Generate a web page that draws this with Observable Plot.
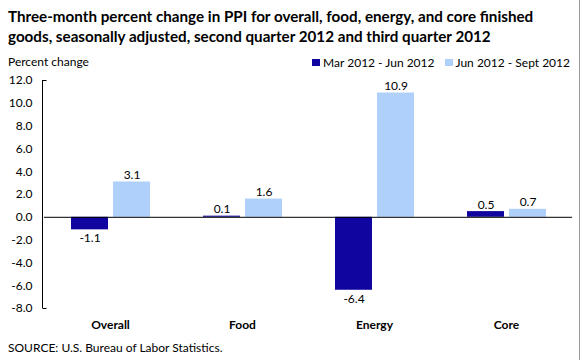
<!DOCTYPE html>
<html><head><meta charset="utf-8">
<script src="https://cdn.jsdelivr.net/npm/d3@7"></script>
<script src="https://cdn.jsdelivr.net/npm/@observablehq/plot@0.6"></script>
<style>
body{margin:0;background:#fff;font-family:Lato,"Open Sans",sans-serif;color:#000;}
#wrap{position:relative;width:580px;height:360px;overflow:hidden;background:#fff;}
#border{position:absolute;right:0;top:0;width:1px;height:360px;background:#9a9a9a;}
#title{position:absolute;left:8px;top:6px;font-weight:bold;font-size:15.2px;line-height:20px;width:570px;}
#ylab{position:absolute;left:8px;top:54px;font-size:12px;}
#legend{position:absolute;right:10px;top:55px;font-size:12px;display:flex;align-items:center;white-space:nowrap;}
#legend .sw{display:inline-block;width:8px;height:7px;margin-right:3px;}
#legend .item{display:flex;align-items:center;margin-left:10px;}
#chart{position:absolute;left:0;top:72px;}
#source{position:absolute;left:8px;top:340px;font-size:12px;}
</style>
</head><body>
<div id="wrap">
<div id="title">Three-month percent change in PPI for overall, food, energy, and core finished goods, seasonally adjusted, second quarter 2012 and third quarter 2012</div>
<div id="ylab">Percent change</div>
<div id="legend"></div>
<div id="chart"></div>
<div id="source">SOURCE: U.S. Bureau of Labor Statistics.</div>
<div id="border"></div>
</div>
<script>
const categories = ["Overall", "Food", "Energy", "Core"];
const seriesNames = ["Mar 2012 - Jun 2012", "Jun 2012 - Sept 2012"];
const q2Values = [-1.1, 0.1, -6.4, 0.5];
const q3Values = [3.1, 1.6, 10.9, 0.7];
const yTicks = [-8, -6, -4, -2, 0, 2, 4, 6, 8, 10, 12];
const colors = ["#10069f", "#afd0fa"];

const data = [];
categories.forEach((c, i) => {
  data.push({category: c, series: seriesNames[0], value: q2Values[i]});
  data.push({category: c, series: seriesNames[1], value: q3Values[i]});
});

const legend = document.getElementById("legend");
seriesNames.forEach((s, i) => {
  const it = document.createElement("span");
  it.className = "item";
  it.innerHTML = `<span class="sw" style="background:${colors[i]}"></span>${s}`;
  legend.appendChild(it);
});

const plot = Plot.plot({
  width: 580,
  height: 270,
  marginLeft: 42,
  marginRight: 7,
  marginTop: 8,
  marginBottom: 34,
  style: {fontFamily: "Lato, 'Open Sans', sans-serif", fontSize: "12px", color: "#000", background: "transparent"},
  fx: {domain: categories, paddingInner: 0, paddingOuter: 0, label: null, tickSize: 0, tickPadding: 12},
  x: {domain: seriesNames, paddingInner: 0.12, paddingOuter: 0.6, axis: null},
  y: {domain: [-8, 12], ticks: yTicks, tickFormat: d => d.toFixed(1), tickSize: 0, tickPadding: 12, label: null},
  color: {domain: seriesNames, range: colors},
  marks: [
    Plot.barY(data, {fx: "category", x: "series", y: "value", fill: "series"}),
    Plot.ruleY([0], {stroke: "#000", strokeWidth: 1}),
    Plot.text(data.filter(d => d.value >= 0), {fx: "category", x: "series", y: "value", text: d => d.value.toFixed(1), lineAnchor: "bottom", dy: -3, fill: "#000"}),
    Plot.text(data.filter(d => d.value < 0), {fx: "category", x: "series", y: "value", text: d => d.value.toFixed(1), lineAnchor: "top", dy: 4, fill: "#000"})
  ]
});
d3.select(plot).selectAll("g[aria-label='fx-axis tick label']").attr("font-weight", "bold");
const ys = plot.scale("y");
const fxs = plot.scale("fx");
const svg = d3.select(plot);
const x0 = fxs.range[0] + 0.5;
svg.append("line")
  .attr("x1", x0).attr("x2", x0)
  .attr("y1", ys.apply(12)).attr("y2", ys.apply(-8))
  .attr("stroke", "#000");
[12, -8].forEach(v => {
  svg.append("line")
    .attr("x1", x0).attr("x2", x0 + 4)
    .attr("y1", ys.apply(v) + 0.5).attr("y2", ys.apply(v) + 0.5)
    .attr("stroke", "#000");
});
document.getElementById("chart").appendChild(plot);
</script>
</body></html>
